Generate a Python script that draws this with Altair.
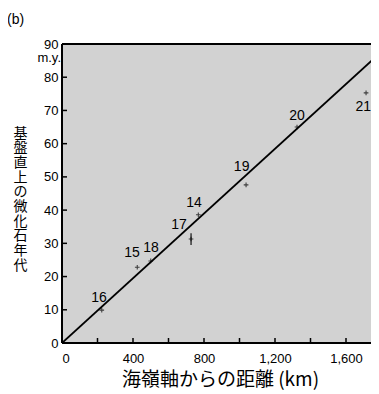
import altair as alt
import pandas as pd

# ---- data ----
site_ids = ["16", "15", "18", "17", "14", "19", "20", "21"]
distance_km = [224, 424, 500, 727, 768, 1037, 1324, 1713]
age_my = [9.9, 22.8, 24.7, 31.3, 38.6, 47.6, 65.0, 75.3]
label_x = [208, 394, 501, 659, 744, 1012, 1324, 1697]
label_y = [13.6, 27.1, 28.6, 35.5, 42.2, 52.9, 68.4, 71.1]

err_x = [727]
err_lo = [29.5]
err_hi = [33.0]

fit_x = [0, 1765]
fit_y = [0, 86]

x_tick_labels = [0, 400, 800, 1200, 1600]
x_minor = [200, 400, 600, 800, 1000, 1200, 1400, 1600]
y_tick_labels = [0, 10, 20, 30, 40, 50, 60, 70, 80, 90]
y_minor = [10, 20, 30, 40, 50, 60, 70, 80]

W = 317
H = 299
XMAX = W / 0.1775

pts = pd.DataFrame({"id": site_ids, "x": distance_km, "y": age_my,
                    "lx": label_x, "ly": label_y})
err = pd.DataFrame({"x": err_x, "lo": err_lo, "hi": err_hi})
fit = pd.DataFrame({"x": fit_x, "y": fit_y})
xt = pd.DataFrame({"x": x_minor})
yt = pd.DataFrame({"y": y_minor})
one = pd.DataFrame({"k": [0]})

FONT = "Liberation Sans"
CJK = "Noto Sans CJK JP"

xscale = alt.Scale(domain=[0, XMAX], nice=False, zero=False)
yscale = alt.Scale(domain=[0, 90], nice=False)

xaxis = alt.Axis(values=x_tick_labels, format=",d", ticks=False, grid=False,
                 domain=False, labelFont=FONT, labelFontSize=13,
                 labelColor="black", labelPadding=9, labelOverlap=False,
                 title="海嶺軸からの距離 (km)", titleFont=CJK,
                 titleFontSize=19, titleFontWeight="normal",
                 titleColor="black", titleX=158, titleY=27,
                 titleBaseline="top", titleAlign="center")
yaxis = alt.Axis(values=y_tick_labels, ticks=False, grid=False, domain=False,
                 labelFont=FONT, labelFontSize=13, labelColor="black",
                 labelPadding=4, labelOverlap=False,
                 title=list("基盤直上の微化石年代"), titleFont=CJK,
                 titleFontSize=14, titleFontWeight="normal",
                 titleColor="black", titleAngle=0, titleLineHeight=14.7,
                 titleX=-42, titleY=82, titleBaseline="top",
                 titleAlign="center")

X = lambda f: alt.X(f, scale=xscale, axis=xaxis)
Y = lambda f: alt.Y(f, scale=yscale, axis=yaxis)

line = alt.Chart(fit).mark_line(color="black", strokeWidth=1.8, clip=True).encode(
    x=X("x:Q"), y=Y("y:Q"),
)

plus = alt.Chart(pts).mark_point(
    shape="M-1,0L1,0M0,-1L0,1", size=22, color="black", strokeWidth=1.1,
    filled=False,
).encode(x=X("x:Q"), y=Y("y:Q"))

labels = alt.Chart(pts).mark_text(
    font=FONT, fontSize=14, color="black", baseline="middle", align="center"
).encode(x=X("lx:Q"), y=Y("ly:Q"), text="id:N")

errbar = alt.Chart(err).mark_rule(color="black", strokeWidth=1.1).encode(
    x=X("x:Q"), y=Y("lo:Q"), y2="hi:Q")

xticks = alt.Chart(xt).mark_rule(color="black", strokeWidth=1.5).encode(
    x=X("x:Q"), y=alt.value(H), y2=alt.value(H - 5))

yticks = alt.Chart(yt).mark_rule(color="black", strokeWidth=1.5).encode(
    y=Y("y:Q"), x=alt.value(0), x2=alt.value(5))

# frame: left, bottom, top (right edge lies beyond the picture)
frame_left = alt.Chart(one).mark_rule(color="black", strokeWidth=2).encode(
    x=alt.value(0), y=alt.value(0), y2=alt.value(H))
frame_bottom = alt.Chart(one).mark_rule(color="black", strokeWidth=2).encode(
    x=alt.value(0), x2=alt.value(W), y=alt.value(H))
frame_top = alt.Chart(one).mark_rule(color="black", strokeWidth=2).encode(
    x=alt.value(0), x2=alt.value(W), y=alt.value(0))

my = alt.Chart(pd.DataFrame({"t": ["m.y."]})).mark_text(
    font=FONT, fontSize=13, color="black", align="right", baseline="middle"
).encode(x=alt.value(-1), y=alt.value(14), text="t:N")

panel = alt.Chart(pd.DataFrame({"t": ["(b)"]})).mark_text(
    font=FONT, fontSize=14, color="black", align="left", baseline="middle"
).encode(x=alt.value(-55), y=alt.value(-24), text="t:N")

chart = alt.layer(
    line, errbar, plus, labels, xticks, yticks,
    frame_left, frame_bottom, frame_top, my, panel
).properties(
    width=W, height=H,
    background="white",
    autosize=alt.AutoSizeParams(type="none"),
    padding={"left": 54, "top": 36, "right": -8, "bottom": 50},
).configure_view(
    fill="#d2d2d2", stroke=None
)

chart.save("out.html", embed_options={"renderer": "svg", "actions": False})
